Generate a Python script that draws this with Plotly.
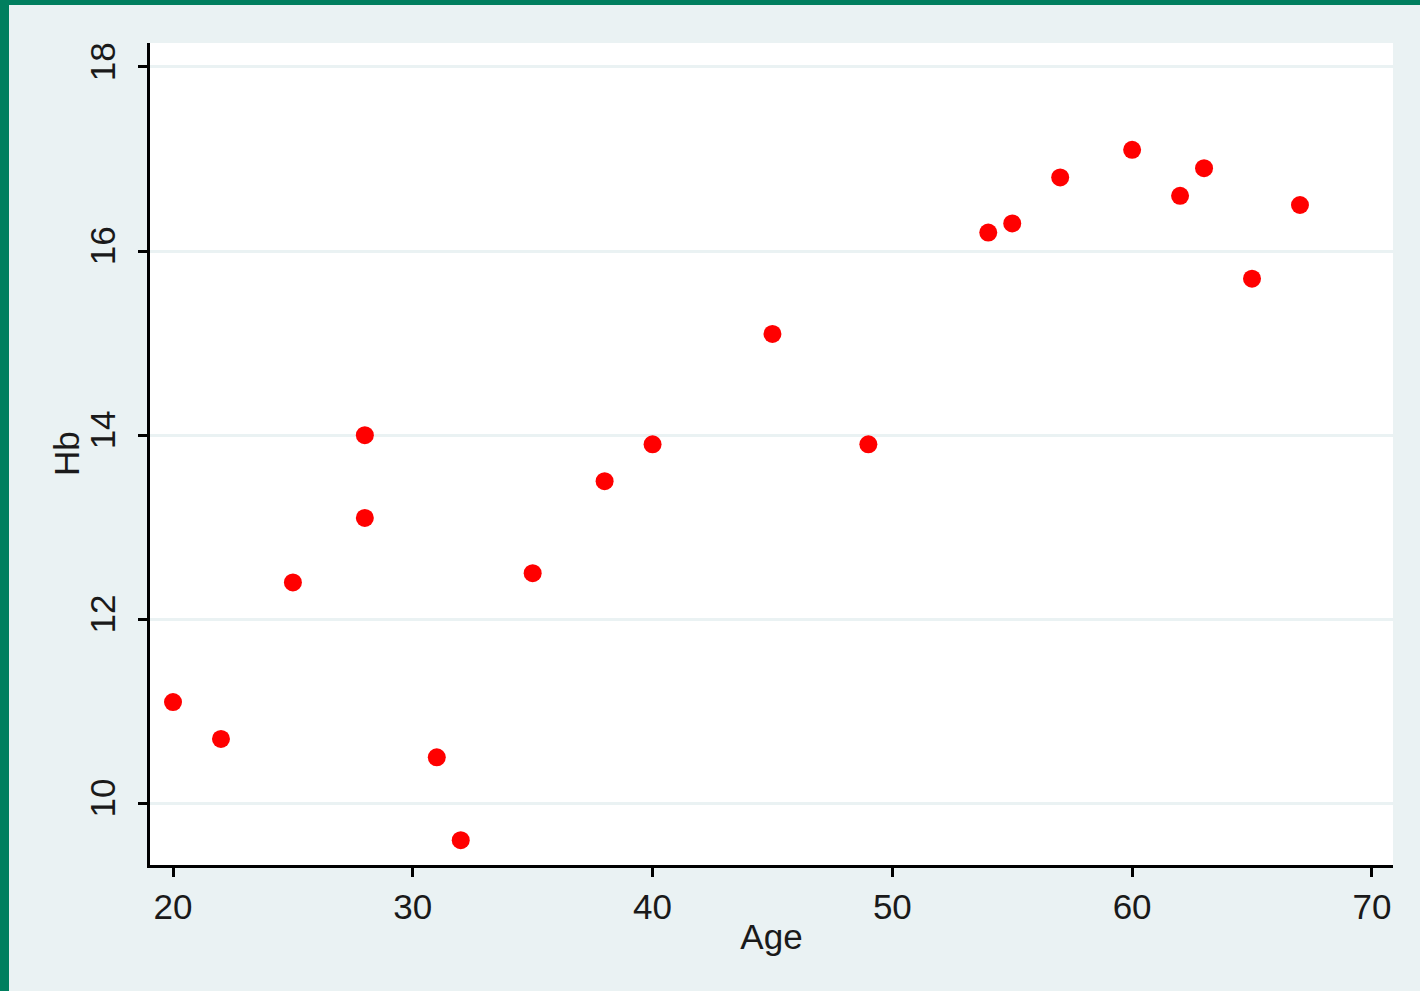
import plotly.graph_objects as go

age = [20, 22, 25, 28, 28, 31, 32, 35, 38, 40, 45, 49, 54, 55, 57, 60, 62, 63, 65, 67]
hb = [11.1, 10.7, 12.4, 14.0, 13.1, 10.5, 9.6, 12.5, 13.5, 13.9, 15.1, 13.9, 16.2, 16.3, 16.8, 17.1, 16.6, 16.9, 15.7, 16.5]

x_ticks = [20, 30, 40, 50, 60, 70]
y_ticks = [10, 12, 14, 16, 18]

BG = "#EAF2F3"
GREEN = "#007F5F"
FONT = "Liberation Sans, Arial, sans-serif"

W, H = 1420, 991
L, R, T, B = 150, 27, 43, 126
pw, ph = W - L - R, H - T - B

fig = go.Figure()
fig.add_trace(go.Scatter(
    x=age, y=hb, mode="markers",
    marker=dict(symbol="circle", size=18, color="#FF0000", line=dict(width=0)),
    showlegend=False,
))

fig.update_layout(
    width=W, height=H,
    margin=dict(l=L, r=R, t=T, b=B),
    paper_bgcolor=BG, plot_bgcolor="white",
    font=dict(family=FONT, size=35, color="#1a1a1a"),
    xaxis=dict(
        range=[19.04, 70.88], tickvals=x_ticks, ticktext=[str(v) for v in x_ticks],
        showgrid=False, zeroline=False,
        showline=True, linecolor="black", linewidth=3,
        ticks="outside", ticklen=9, tickwidth=3, tickcolor="black",
        tickfont=dict(size=35),
        title=dict(text="Age", font=dict(size=35), standoff=0),
    ),
    yaxis=dict(
        range=[9.33, 18.26], tickvals=y_ticks, ticktext=[str(v) for v in y_ticks],
        showgrid=True, gridcolor=BG, gridwidth=3, zeroline=False,
        showline=True, linecolor="black", linewidth=3,
        ticks="outside", ticklen=9, tickwidth=3, tickcolor="black",
        tickangle=-90, tickfont=dict(size=35), ticklabelstandoff=9,
    ),
    annotations=[
        dict(text="Hb", xref="paper", yref="paper", x=(66 - L) / pw, y=0.5,
             xanchor="center", yanchor="middle", textangle=-90, showarrow=False,
             font=dict(size=35, family=FONT, color="#1a1a1a")),
    ],
    shapes=[
        dict(type="rect", xref="paper", yref="paper",
             x0=-L / pw, x1=(W - L) / pw, y0=1 + (T - 5) / ph, y1=1 + T / ph + 0.01,
             fillcolor=GREEN, line=dict(width=0), layer="above"),
        dict(type="rect", xref="paper", yref="paper",
             x0=-L / pw - 0.01, x1=-(L - 9) / pw, y0=-B / ph - 0.01, y1=1 + T / ph + 0.01,
             fillcolor=GREEN, line=dict(width=0), layer="above"),
    ],
)

fig.write_html("out.html", config={"displayModeBar": False},
               post_script="document.body.style.margin='0';document.body.style.overflow='hidden';")
